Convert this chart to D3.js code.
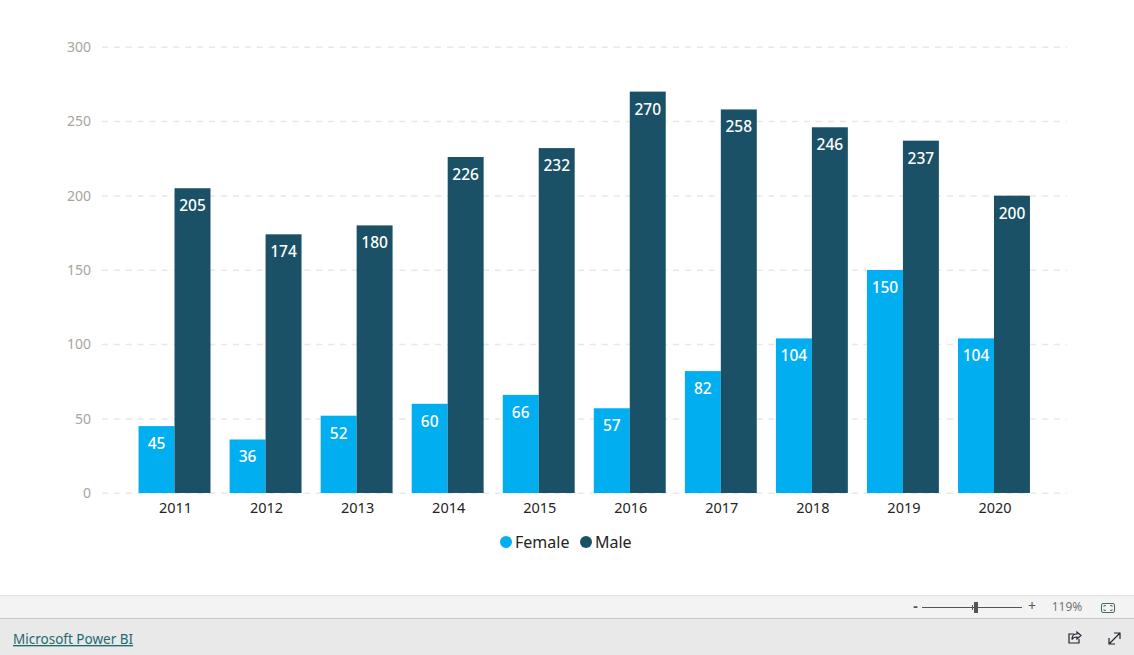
<!DOCTYPE html>
<html>
<head>
<meta charset="utf-8">
<script src="https://d3js.org/d3.v7.min.js"></script>
<style>
  html, body { margin: 0; padding: 0; background: #fff; overflow: hidden; }
  text { font-family: "Noto Sans", sans-serif; }
</style>
</head>
<body>
<div class="canvas"></div>
<script>
const years = ['2011', '2012', '2013', '2014', '2015', '2016', '2017', '2018', '2019', '2020'];
const female = [45, 36, 52, 60, 66, 57, 82, 104, 150, 104];
const male = [205, 174, 180, 226, 232, 270, 258, 246, 237, 200];
const seriesNames = ['Female', 'Male'];
const seriesColors = ['#01aef0', '#1a5166'];
const yTicks = [0, 50, 100, 150, 200, 250, 300];

const width = 1134;
const height = 655;

const svg = d3.select('.canvas')
  .append('svg')
  .attr('width', width)
  .attr('height', height)
  .style('display', 'block');

const x = d3.scaleBand().domain(years).range([129, 1039.5]).paddingInner(0.21).paddingOuter(0.105);
const inner = d3.scaleBand().domain(seriesNames).range([0, x.bandwidth()]);
const y = d3.scaleLinear().domain([0, 300]).range([493, 47]);

// gridlines
svg.append('g').selectAll('line')
  .data(yTicks)
  .enter().append('line')
  .attr('x1', 102)
  .attr('x2', 1067)
  .attr('y1', d => y(d) + 0.25)
  .attr('y2', d => y(d) + 0.25)
  .attr('stroke', '#e8e8e8')
  .attr('stroke-width', 1.5)
  .attr('stroke-dasharray', '6 5.9');

const yAxisGroup = svg.append('g').attr('transform', 'translate(91, 0)');
yAxisGroup.call(d3.axisLeft(y).tickValues(yTicks).tickSize(0).tickPadding(0));
yAxisGroup.select('.domain').remove();
yAxisGroup.selectAll('text')
  .attr('fill', '#a8a49c')
  .style('font-size', '14px')
  .style('font-family', '"Noto Sans", sans-serif');

const xAxisGroup = svg.append('g').attr('transform', 'translate(1, 493)');
xAxisGroup.call(d3.axisBottom(x).tickSize(0).tickPadding(10));
xAxisGroup.select('.domain').remove();
xAxisGroup.selectAll('text')
  .attr('fill', '#252423')
  .style('font-size', '14.5px')
  .style('font-family', '"Noto Sans", sans-serif');

const groups = svg.append('g').selectAll('g')
  .data(years)
  .enter().append('g')
  .attr('transform', d => `translate(${x(d)}, 0)`);

[female, male].forEach((values, s) => {
  const name = seriesNames[s];

  groups.append('rect')
    .attr('x', inner(name))
    .attr('y', (d, i) => y(values[i]))
    .attr('width', inner.bandwidth())
    .attr('height', (d, i) => y(0) - y(values[i]))
    .attr('fill', seriesColors[s]);

  groups.append('text')
    .attr('x', inner(name) + inner.bandwidth() / 2)
    .attr('y', (d, i) => y(values[i]) + 23)
    .attr('text-anchor', 'middle')
    .attr('fill', '#fff')
    .style('font-size', '15.5px')
    .style('font-weight', 500)
    .text((d, i) => values[i]);
});

// legend
const legendX = [506, 586];
const legend = svg.append('g').selectAll('g')
  .data(seriesNames)
  .enter().append('g')
  .attr('transform', (d, i) => `translate(${legendX[i]}, 542)`);

legend.append('circle')
  .attr('r', 6)
  .attr('fill', (d, i) => seriesColors[i]);

legend.append('text')
  .attr('x', 9)
  .attr('y', 5.5)
  .attr('fill', '#252423')
  .style('font-size', '16px')
  .text(d => d);

// Power BI viewer chrome
svg.append('rect').attr('x', 0).attr('y', 595).attr('width', width).attr('height', 23)
  .attr('fill', '#f3f3f3');
svg.append('line').attr('x1', 0).attr('x2', width).attr('y1', 595.5).attr('y2', 595.5)
  .attr('stroke', '#e1e1e1');
svg.append('rect').attr('x', 0).attr('y', 618).attr('width', width).attr('height', 37)
  .attr('fill', '#e9e9e9');
svg.append('line').attr('x1', 0).attr('x2', width).attr('y1', 618.5).attr('y2', 618.5)
  .attr('stroke', '#c8c8c8');

svg.append('text')
  .attr('x', 13)
  .attr('y', 644)
  .attr('fill', '#1f6a70')
  .style('font-size', '13.5px')
  .style('text-decoration', 'underline')
  .text('Microsoft Power BI');

const chrome = '#555';
svg.append('text').attr('x', 915.5).attr('y', 611).attr('text-anchor', 'middle')
  .attr('fill', chrome).style('font-size', '14px').style('font-weight', 700).text('-');
svg.append('line').attr('x1', 922).attr('x2', 1022).attr('y1', 607.5).attr('y2', 607.5)
  .attr('stroke', chrome);
svg.append('line').attr('x1', 972.5).attr('x2', 972.5).attr('y1', 605).attr('y2', 610)
  .attr('stroke', chrome);
svg.append('rect').attr('x', 974).attr('y', 602).attr('width', 4).attr('height', 11)
  .attr('fill', chrome);
svg.append('text').attr('x', 1032).attr('y', 611).attr('text-anchor', 'middle')
  .attr('fill', chrome).style('font-size', '14px').text('+');
svg.append('text').attr('x', 1067).attr('y', 611).attr('text-anchor', 'middle')
  .attr('fill', '#777').style('font-size', '12px').text('119%');
svg.append('rect').attr('x', 1101.5).attr('y', 603.5).attr('width', 13).attr('height', 9).attr('rx', 1.5)
  .attr('fill', 'none').attr('stroke', '#3f6f60');
svg.append('path').attr('d', 'M1104 607v-1.5h2M1112 607v-1.5h-2M1104 609v1.5h2M1112 609v1.5h-2')
  .attr('fill', 'none').attr('stroke', '#3f6f60').attr('stroke-width', 0.8);

// share icon
const icon = svg.append('g').attr('fill', 'none').attr('stroke', '#2a2030').attr('stroke-width', 1.2);
icon.append('path').attr('d', 'M1074 634h-5v9h10v-4');
icon.append('path').attr('d', 'M1072 639c0-3 2-5 5-5v-2l4 3.5-4 3.5v-2c-2 0-4 .5-5 2.5z');
// expand icon
icon.append('path').attr('d', 'M1109 644l11-11M1114 633h6v6M1109 638v6h6');
</script>
</body>
</html>
